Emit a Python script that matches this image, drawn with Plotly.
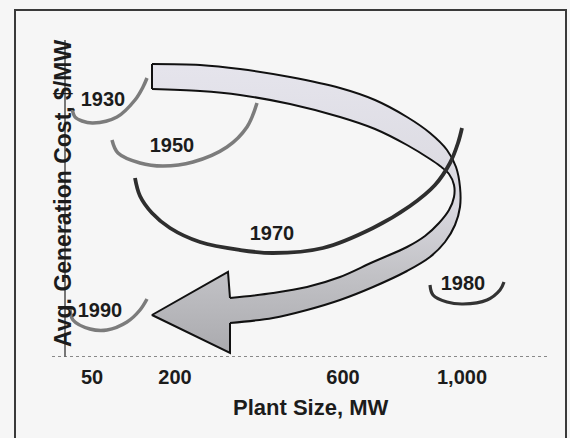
import plotly.graph_objects as go

# ---------------- data (conceptual chart units) ----------------
# x: plant size axis units, y: avg generation cost axis units
tick_positions = [27, 110, 278, 397]
tick_labels = ["50", "200", "600", "1,000"]

years = ["1930", "1950", "1970", "1980", "1990"]

curve_1930_x = [7, 10, 17, 28, 52, 70, 78, 82]
curve_1930_y = [249, 240, 236, 234, 240, 257, 270, 279]

curve_1950_x = [47, 53, 75, 98, 128, 162, 182, 192]
curve_1950_y = [217, 204, 194, 191, 195, 210, 230, 254]

curve_1970_x = [70, 75, 87, 105, 135, 175, 208, 258, 308, 345, 370, 385, 393, 397]
curve_1970_y = [179, 161, 144, 129, 115, 107, 104, 109, 129, 151, 172, 194, 214, 229]

curve_1980_x = [365, 368, 382, 398, 422, 435, 439]
curve_1980_y = [72, 62, 55, 53, 57, 67, 75]

curve_1990_x = [5, 8, 25, 42, 62, 75, 82]
curve_1990_y = [48, 37, 28, 27, 35, 47, 58]

label_x = [38, 107, 207, 398, 35]
label_y = [256, 210, 122, 72, 45]

# trend arrow outline: outer edge (start -> head), arrow head, inner edge (head -> start)
arrow_outer_x = [87, 135, 175, 225, 275, 310, 342, 365, 382, 391, 395, 395, 390, 380, 365, 342, 308, 275, 242, 208, 165]
arrow_outer_y = [293, 292, 288, 280, 269, 257, 240, 224, 207, 190, 170, 150, 132, 115, 100, 86, 70, 57, 47, 39, 34]
arrow_head_x = [165, 87, 163, 165]
arrow_head_y = [4, 42, 85, 59]
arrow_inner_x = [208, 242, 275, 308, 342, 360, 374, 384, 389, 389, 384, 375, 365, 342, 310, 275, 225, 175, 135, 87]
arrow_inner_y = [64, 70, 80, 95, 110, 121, 134, 147, 160, 172, 183, 191, 198, 212, 228, 240, 253, 262, 266, 268]

# ---------------- figure ----------------
FONT = "Arial, 'Liberation Sans', sans-serif"
fig = go.Figure()

# arrow body fill
arrow_x = arrow_outer_x + arrow_head_x + arrow_inner_x
arrow_y = arrow_outer_y + arrow_head_y + arrow_inner_y
fig.add_trace(go.Scatter(
    x=arrow_x, y=arrow_y, mode="lines", fill="toself",
    fillgradient=dict(type="vertical", start=0, stop=300,
                      colorscale=[[0, "#a9a9ad"], [0.28, "#c2c2c6"], [0.5, "#d9d8df"], [1, "#e6e5ed"]]),
    line=dict(color="rgba(0,0,0,0)", width=0), hoverinfo="skip", showlegend=False))

# arrow outline: smooth edges + straight head/start edges
outline_style = dict(color="#111111", width=2)
fig.add_trace(go.Scatter(x=arrow_outer_x, y=arrow_outer_y, mode="lines",
                         line=dict(**outline_style, shape="spline"), hoverinfo="skip", showlegend=False))
fig.add_trace(go.Scatter(x=[arrow_head_x[-1]] + arrow_inner_x, y=[arrow_head_y[-1]] + arrow_inner_y, mode="lines",
                         line=dict(**outline_style, shape="spline"), hoverinfo="skip", showlegend=False))
fig.add_trace(go.Scatter(x=[arrow_outer_x[-1]] + arrow_head_x, y=[arrow_outer_y[-1]] + arrow_head_y, mode="lines",
                         line=dict(**outline_style, shape="linear"), hoverinfo="skip", showlegend=False))
fig.add_trace(go.Scatter(x=[arrow_inner_x[-1], arrow_outer_x[0]], y=[arrow_inner_y[-1], arrow_outer_y[0]],
                         mode="lines", line=outline_style, hoverinfo="skip", showlegend=False))

curves = [
    (curve_1930_x, curve_1930_y, "#7c7c7c", 3.5),
    (curve_1950_x, curve_1950_y, "#7c7c7c", 3.5),
    (curve_1970_x, curve_1970_y, "#2e2e2e", 3.8),
    (curve_1980_x, curve_1980_y, "#333333", 3.2),
    (curve_1990_x, curve_1990_y, "#7c7c7c", 3.5),
]
for cx, cy, col, w in curves:
    fig.add_trace(go.Scatter(x=cx, y=cy, mode="lines", line=dict(color=col, width=w, shape="spline"),
                             hoverinfo="skip", showlegend=False))

fig.add_trace(go.Scatter(
    x=label_x, y=label_y, mode="text", text=years,
    textfont=dict(family=FONT, size=20, color="#1c1c1c", weight="bold"),
    hoverinfo="skip", showlegend=False))

# dotted x axis line
fig.add_shape(type="line", xref="paper", yref="y", x0=0, x1=1, y0=0, y1=0,
              line=dict(color="#666666", width=1.6, dash="dot"))
# outer frame
fig.add_shape(type="rect", xref="paper", yref="paper",
              x0=(15 - 52) / 496, x1=(566 - 52) / 496, y0=-0.3, y1=(357 - 10) / 317,
              line=dict(color="#3a3a3a", width=2))

fig.add_annotation(text="Avg. Generation Cost, $/MW", x=-2, y=163, xref="x", yref="y",
                   textangle=-90, showarrow=False,
                   font=dict(family=FONT, size=23, color="#1c1c1c", weight="bold"))
fig.add_annotation(text="Plant Size, MW", x=(310 - 52) / 496, y=-51 / 317, xref="paper", yref="paper",
                   xanchor="center", yanchor="middle", showarrow=False,
                   font=dict(family=FONT, size=22, color="#1c1c1c", weight="bold"))

fig.update_layout(
    width=570, height=438,
    margin=dict(l=52, r=22, t=40, b=81),
    paper_bgcolor="#f6f6f6", plot_bgcolor="#f6f6f6",
    showlegend=False,
)
fig.update_xaxes(range=[-13, 483], showgrid=False, zeroline=True, zerolinecolor="#777777", zerolinewidth=1.2,
                 showline=False, tickmode="array", tickvals=tick_positions, ticktext=tick_labels,
                 ticks="", ticklabelstandoff=6,
                 tickfont=dict(family=FONT, size=20, color="#1c1c1c", weight="bold"), fixedrange=True)
fig.update_yaxes(range=[0, 317], showgrid=False, zeroline=False, showline=False,
                 showticklabels=False, ticks="", fixedrange=True)

fig.write_html("out.html", config={"displayModeBar": False, "staticPlot": True},
               post_script="document.body.style.margin='0';document.body.style.background='#f6f6f6';")
